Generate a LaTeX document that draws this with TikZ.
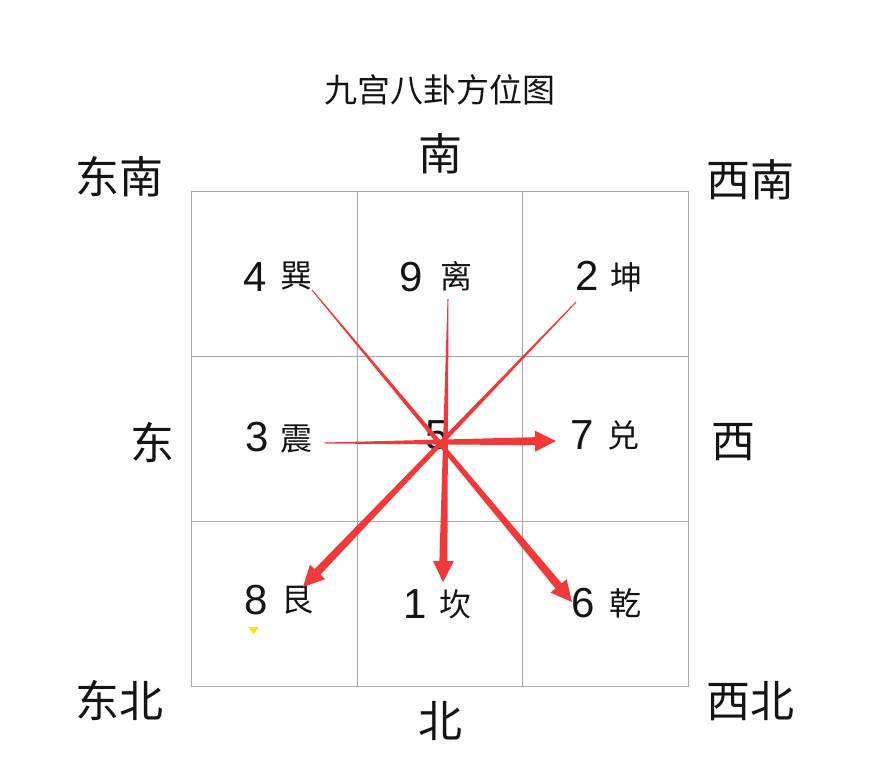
\documentclass[tikz,border=0pt]{standalone}
\usepackage{fontspec}
\setmainfont{Liberation Sans}
\newfontfamily\cjk{Noto Sans CJK SC}
\usetikzlibrary{calc}
\definecolor{arrowred}{RGB}{240,58,58}
\definecolor{gridgray}{RGB}{168,168,168}
\definecolor{marky}{RGB}{255,228,0}
\tikzset{
  dirlabel/.style={inner sep=0pt, font=\cjk\fontsize{44}{44}\selectfont, text=black!92},
  titlelabel/.style={inner sep=0pt, font=\cjk\fontsize{33}{33}\selectfont, text=black!92},
  numlabel/.style={inner sep=0pt, font=\fontsize{42}{42}\selectfont, text=black!92},
  gualabel/.style={inner sep=0pt, font=\cjk\fontsize{32}{32}\selectfont, text=black!92},
  gridline/.style={draw=gridgray, line width=1pt},
}
\newcommand\taparrow[2]{%
  \path ($(#2)!21pt!(#1)$) coordinate (basec);
  \fill[arrowred] ($(#1)!0.5pt!90:(#2)$) -- ($(basec)!4pt!90:(#2)$) -- ($(basec)!10.5pt!90:(#2)$) -- (#2)
    -- ($(basec)!10.5pt!-90:(#2)$) -- ($(basec)!4pt!-90:(#2)$) -- ($(#1)!0.5pt!-90:(#2)$) -- cycle;}
\begin{document}
\begin{tikzpicture}[x=1pt,y=-1pt]
\useasboundingbox (0,0) rectangle (869,774);
\fill[white] (0,0) rectangle (869,774);
% grid
\draw[gridline] (191,191) rectangle (688,686);
\draw[gridline] (357,191) -- (357,686);
\draw[gridline] (522,191) -- (522,686);
\draw[gridline] (191,356) -- (688,356);
\draw[gridline] (191,521) -- (688,521);
% title and directions
\node[titlelabel] (title) at (440,90) {九宫八卦方位图};
\node[dirlabel] (S) at (440,154) {南};
\node[dirlabel] (SE) at (119,177) {东南};
\node[dirlabel] (SW) at (750,180) {西南};
\node[dirlabel] (E) at (152.5,442) {东};
\node[dirlabel] (W) at (733,442) {西};
\node[dirlabel] (NE) at (119,700) {东北};
\node[dirlabel] (N) at (440,721) {北};
\node[dirlabel] (NW) at (750,701) {西北};
% cells
\node[numlabel] (n4) at (255.5,277) {4};
\node[gualabel] (g4) at (296.5,276) {巽};
\node[numlabel] (n9) at (411.5,277) {9};
\node[gualabel] (g9) at (456.5,276) {离};
\node[numlabel] (n2) at (587.5,276) {2};
\node[gualabel] (g2) at (626,277) {坤};
\node[numlabel] (n3) at (257,437.5) {3};
\node[gualabel] (g3) at (296,439) {震};
\node[numlabel] (n5) at (437,435) {5};
\node[numlabel] (n7) at (582.5,435.5) {7};
\node[gualabel] (g7) at (623.5,435) {兑};
\node[numlabel] (n8) at (256,600) {8};
\node[gualabel] (g8) at (297,600) {艮};
\node[numlabel] (n1) at (415,604) {1};
\node[gualabel] (g1) at (455.5,604) {坎};
\node[numlabel] (n6) at (583,603) {6};
\node[gualabel] (g6) at (625,603) {乾};
% arrow ends
\coordinate (t3) at (325,443);
\coordinate (h7) at (556,441);
\coordinate (t4) at (312,290);
\coordinate (h6) at (572,602);
\coordinate (t2) at (576,302);
\coordinate (h8) at (303,587);
\coordinate (t9) at (448,299);
\coordinate (h1) at (443,582);
\taparrow{t3}{h7}
\taparrow{t4}{h6}
\taparrow{t2}{h8}
\taparrow{t9}{h1}
% small yellow mark
\fill[marky] (248,627) -- (259,627) -- (253.5,634) -- cycle;
\end{tikzpicture}
\end{document}
